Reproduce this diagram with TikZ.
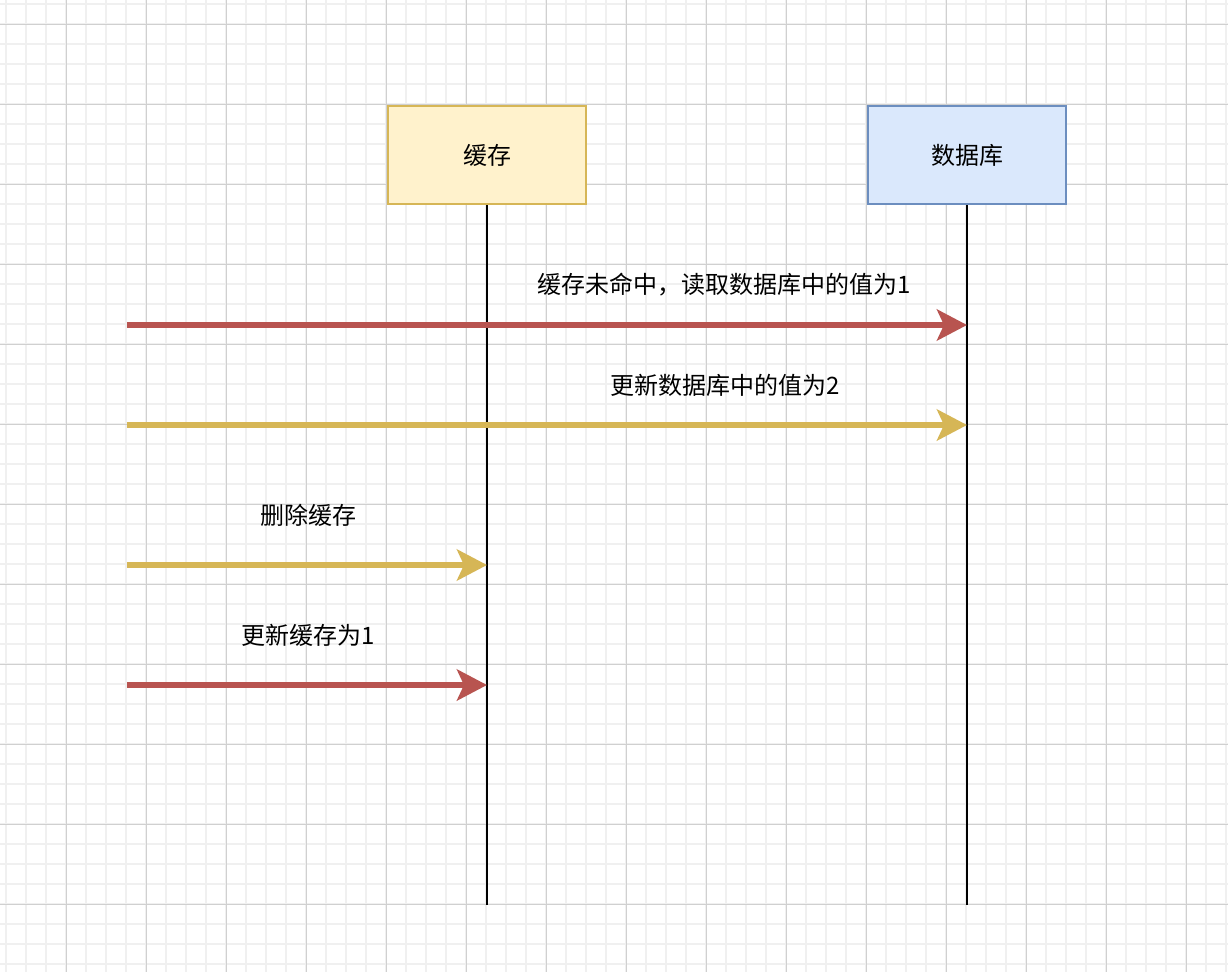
\documentclass[tikz,border=0pt]{standalone}
\usepackage{fontspec}
\setmainfont{Noto Sans CJK SC}
\usetikzlibrary{arrows.meta}
\definecolor{gridminor}{HTML}{F0F0F0}
\definecolor{gridmajor}{HTML}{D0D0D0}
\definecolor{yfill}{HTML}{FFF2CC}
\definecolor{ystroke}{HTML}{D6B656}
\definecolor{bfill}{HTML}{DAE8FC}
\definecolor{bstroke}{HTML}{6C8EBF}
\definecolor{redline}{HTML}{B85450}
\tikzset{
  actor/.style={draw, line width=2pt, minimum width=198pt, minimum height=98pt, inner sep=0pt, font=\fontsize{24pt}{28pt}\selectfont},
  lifeline/.style={draw=black, line width=2pt},
  msg/.style={line width=6pt, -{Stealth[length=30pt, width=31pt, inset=7pt]}},
  msglabel/.style={font=\fontsize{24pt}{28pt}\selectfont, inner sep=0pt}
}
\begin{document}
\begin{tikzpicture}[x=1pt,y=-1pt]
\useasboundingbox (0,0) rectangle (1228,972);
\fill[white] (0,0) rectangle (1228,972);
% minor grid
\foreach \i in {0,...,61} {\draw[gridminor, line width=1.5pt] (6+20*\i,0) -- (6+20*\i,972);}
\foreach \j in {0,...,48} {\draw[gridminor, line width=1.5pt] (0,4+20*\j) -- (1228,4+20*\j);}
% major grid
\foreach \i in {0,...,14} {\draw[gridmajor, line width=1pt] (66+80*\i,0) -- (66+80*\i,972);}
\foreach \j in {0,...,11} {\draw[gridmajor, line width=1pt] (0,24+80*\j) -- (1228,24+80*\j);}

\node[actor, fill=yfill, draw=ystroke] (cache) at (487,155) {缓存};
\node[actor, fill=bfill, draw=bstroke] (db) at (967,155) {数据库};

\coordinate (cacheend) at (487,905);
\coordinate (dbend) at (967,905);
\draw[lifeline] (cache.south) -- (cacheend);
\draw[lifeline] (db.south) -- (dbend);

\coordinate (s1) at (127,325); \coordinate (e1) at (967,325);
\coordinate (s2) at (127,425); \coordinate (e2) at (967,425);
\coordinate (s3) at (127,565); \coordinate (e3) at (487,565);
\coordinate (s4) at (127,685); \coordinate (e4) at (487,685);

\draw[msg, redline] (s1) -- (e1);
\draw[msg, ystroke] (s2) -- (e2);
\draw[msg, ystroke] (s3) -- (e3);
\draw[msg, redline] (s4) -- (e4);

\node[msglabel] (l1) at (724,285) {缓存未命中，读取数据库中的值为1};
\node[msglabel] (l2) at (725,385) {更新数据库中的值为2};
\node[msglabel] (l3) at (308,515) {删除缓存};
\node[msglabel] (l4) at (308,635) {更新缓存为1};
\end{tikzpicture}
\end{document}
